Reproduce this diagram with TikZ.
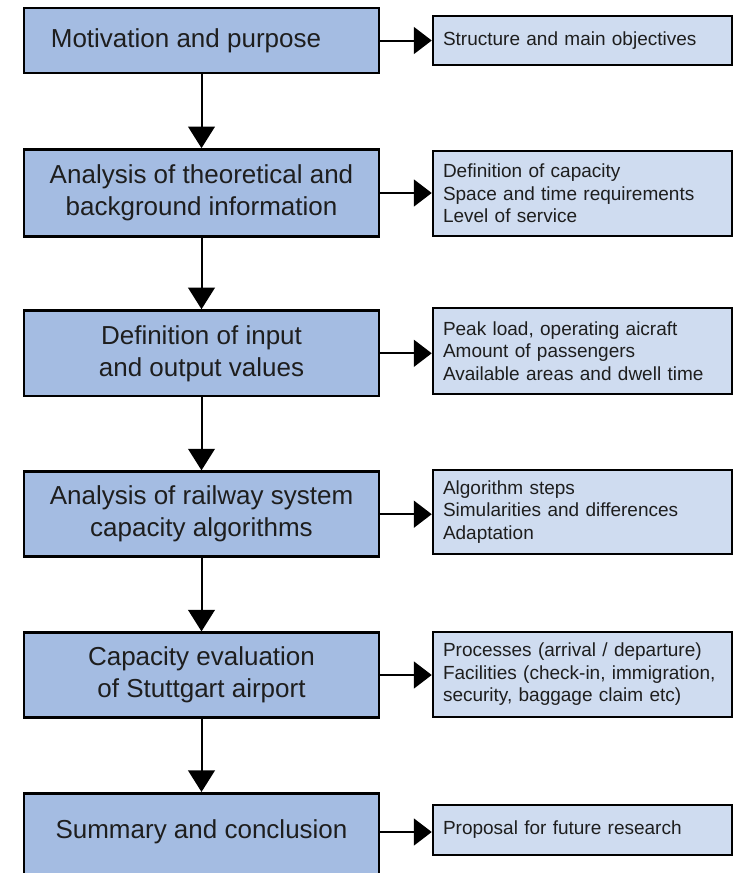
\documentclass[tikz,border=0pt]{standalone}
\usepackage{fontspec}
\setmainfont{Liberation Sans}
\usetikzlibrary{arrows.meta}
\definecolor{leftfill}{RGB}{164,188,226}
\definecolor{rightfill}{RGB}{207,220,240}
\definecolor{txt}{RGB}{30,30,30}
\begin{document}
\begin{tikzpicture}[x=1pt,y=-1pt,
  mainbox/.style={draw=black, line width=2.7pt, fill=leftfill, minimum width=355pt,
    align=center, font=\fontsize{26}{32}\selectfont, inner sep=0pt, text=txt},
  maintext/.style={align=center, font=\fontsize{26}{32}\selectfont, inner sep=0pt, text=txt},
  sidebox/.style={draw=black, line width=2.5pt, fill=rightfill, text width=279pt,
    inner xsep=10pt, inner ysep=0pt, align=left, font=\fontsize{19}{22.5}\selectfont, text=txt},
  down/.style={line width=2pt, -{Triangle[length=21.6pt,width=26.7pt]}},
  side/.style={line width=2pt, -{Triangle[length=18pt,width=27pt]}}]
\clip (0,0) rectangle (737,873);
\fill[white] (0,0) rectangle (737,873);

\node[mainbox, minimum height=65pt] (b1) at (201.5,40.5) {};
\node[maintext] (t1) at (186,40.5) {Motivation and purpose};
\node[mainbox, minimum height=87pt] (b2) at (201.5,193) {Analysis of theoretical and\\background information};
\node[mainbox, minimum height=85.5pt] (b3) at (201.5,353.3) {Definition of input\\and output values};
\node[mainbox, minimum height=85pt] (b4) at (201.5,514.2) {Analysis of railway system\\capacity algorithms};
\node[mainbox, minimum height=84.5pt] (b5) at (201.5,675) {Capacity evaluation\\of Stuttgart airport};
\node[mainbox, minimum height=90pt] (b6) at (201.5,838.3) {};
\node[maintext] (t6) at (201.5,832) {Summary and conclusion};

\node[sidebox, minimum height=49pt] (r1) at (582.5,40.5) {Structure and main objectives};
\node[sidebox, minimum height=85pt] (r2) at (582.5,193.5) {Definition of capacity\\Space and time requirements\\Level of service};
\node[sidebox, minimum height=86pt] (r3) at (582.5,351) {Peak load, operating aicraft\\Amount of passengers\\Available areas and dwell time};
\node[sidebox, minimum height=84pt] (r4) at (582.5,512) {Algorithm steps\\Simularities and differences\\Adaptation};
\node[sidebox, minimum height=85pt] (r5) at (582.5,674.5) {Processes (arrival / departure)\\Facilities (check-in, immigration,\\security, baggage claim etc)};
\node[sidebox, minimum height=50pt] (r6) at (582.5,830) {Proposal for future research};

\draw[down] (b1.south) -- (b2.north);
\draw[down] (b2.south) -- (b3.north);
\draw[down] (b3.south) -- (b4.north);
\draw[down] (b4.south) -- (b5.north);
\draw[down] (b5.south) -- (b6.north);

\draw[side] (b1.east) -- (b1.east -| r1.west);
\draw[side] (b2.east) -- (b2.east -| r2.west);
\draw[side] (b3.east) -- (b3.east -| r3.west);
\draw[side] (b4.east) -- (b4.east -| r4.west);
\draw[side] (b5.east) -- (b5.east -| r5.west);
\draw[side] (t6 -| b6.east) -- (t6 -| r6.west);
\end{tikzpicture}
\end{document}
